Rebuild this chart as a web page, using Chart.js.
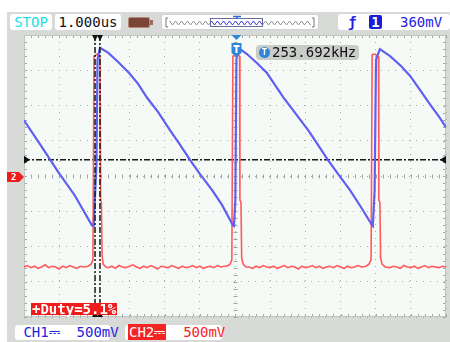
<!DOCTYPE html>
<html lang="en">
<head>
<meta charset="UTF-8">
<title>CH1 / CH2 capture</title>
<script src="https://cdn.jsdelivr.net/npm/chart.js"></script>
<style>
  body { margin: 0; background: #fff; }
  .scope { position: relative; width: 450px; height: 342px; overflow: hidden;
           font-family: "DejaVu Sans Mono", monospace; font-size: 14px; }
  .frame { position: absolute; left: 7px; top: 12px; right: 0; bottom: 0; background: #d7dad7; }
  canvas { position: absolute; left: 0; top: 0; }
  .box { position: absolute; background: #fff; border-radius: 3px; height: 16px; line-height: 16px;
         white-space: nowrap; }
  .stop { left: 10px; top: 14px; width: 42px; text-align: center; color: #22dde6; }
  .tbase { left: 55px; top: 14px; width: 66px; text-align: center; color: #111; }
  .batt { position: absolute; left: 128px; top: 17px; width: 20px; height: 9px; background: #7a4536;
          border: 1px solid #b58a7c; border-radius: 2px; }
  .batt:after { content: ""; position: absolute; left: 21px; top: 2px; width: 3px; height: 5px; background: #9a6a5c; }
  .mem { left: 161px; top: 14px; width: 156px; border: 1px solid #cfd2cf; height: 14px; }
  .trig { left: 338px; top: 14px; width: 112px; color: #2323e6; }
  .trig .edge { position: absolute; left: 10px; font-weight: bold; }
  .trig .src { position: absolute; left: 31px; top: 1px; width: 13px; height: 14px; line-height: 14px; background: #1c1cd6;
               color: #fff; text-align: center; border-radius: 2px; font-weight: bold; }
  .trig .lvl { position: absolute; left: 62px; }
  .ch { top: 325px; height: 15px; line-height: 15px; }
  .ch1 { left: 15px; width: 95px; color: #2424e0; }
  .ch2 { left: 125px; width: 97px; color: #f42424; }
  .ch2 .tag { background: #f42424; color: #fff; padding: 0 1px; margin-left: 3px; }
  .freq { position: absolute; left: 256px; top: 45px; width: 103px; height: 15px; line-height: 15px;
          background: #c9ccc9; border-radius: 4px; color: #111; }
  .freq .ic { position: absolute; left: 3px; top: 2px; width: 11px; height: 11px; border-radius: 6px; background: #2f86d8;
              color: #fff; font-size: 9px; line-height: 11px; text-align: center; font-weight: bold; }
  .freq .val { position: absolute; left: 16px; }
  .duty { position: absolute; left: 31px; top: 303px; height: 12px; line-height: 12px; background: #f01c1c;
          color: #fff; font-weight: bold; padding: 0 1px; }
  .gnd2 { position: absolute; left: 7px; top: 172px; width: 17px; height: 10px; line-height: 10px; background: #ee1c1c;
          color: #fff; font-size: 9px; font-weight: bold; text-indent: 4px;
          clip-path: polygon(0 0, 12px 0, 17px 5px, 12px 10px, 0 10px); }
</style>
</head>
<body>
<div class="scope">
  <div class="frame"></div>
  <div class="box stop">STOP</div>
  <div class="box tbase">1.000us</div>
  <div class="batt"></div>
  <div class="box mem">
    <svg width="156" height="14">
      <defs>
        <pattern id="zz" width="6" height="14" patternUnits="userSpaceOnUse">
          <path d="M0 8 L1.5 6 L3 8 L4.5 10 L6 8" stroke="#8d8d9c" fill="none" stroke-width="1"/>
        </pattern>
        <pattern id="zzb" width="6" height="14" patternUnits="userSpaceOnUse">
          <path d="M0 8 L1.5 6 L3 8 L4.5 10 L6 8" stroke="#3030e0" fill="none" stroke-width="1"/>
        </pattern>
      </defs>
      <path d="M6 3 H4 V12 H6 M150 3 H152 V12 H150" stroke="#777" fill="none"/>
      <rect x="7" y="3" width="142" height="9" fill="url(#zz)"/>
      <rect x="48.5" y="3.5" width="52" height="8" fill="#fff" stroke="#6a6a9a"/>
      <rect x="49" y="3" width="51" height="9" fill="url(#zzb)"/>
      <path d="M71 1.5 H79 M75 1.5 V4" stroke="#2a6ad8" stroke-width="1.5" fill="none"/>
    </svg>
  </div>
  <div class="box trig"><span class="edge">ƒ</span><span class="src">1</span><span class="lvl">360mV</span></div>
  <div class="box ch ch1">&nbsp;CH1⎓&nbsp;&nbsp;500mV</div>
  <div class="box ch ch2"><span class="tag">CH2⎓</span>&nbsp;&nbsp;500mV</div>
  <canvas id="scope" width="450" height="342"></canvas>
  <div class="freq"><span class="ic">T</span><span class="val">253.692kHz</span></div>
  <div class="duty">+Duty=5.1%</div>
  <div class="gnd2">2</div>
</div>

<script>
// time in us (1 us/div, trigger at 0), level in V (500 mV/div, screen centre = 0)
const blueTime = [-6.00, -5.49, -5.03, -4.55, -4.07, -4.02, -3.94, -3.91,
  -3.84, -3.61, -3.33, -3.01, -2.76, -2.50, -2.19, -1.85, -1.56, -1.28, -1.00, -0.65, -0.37, -0.06,
  -0.03, 0.01, 0.04,
  0.09, 0.34, 0.63, 0.91, 1.14, 1.37, 1.73, 2.08, 2.36, 2.64, 2.96, 3.27, 3.58, 3.90,
  3.92, 3.97, 4.01,
  4.12, 4.41, 4.72, 4.98, 5.26, 5.54, 5.83, 6.00];
const blueVolt = [0.79, 0.41, 0.06, -0.28, -0.70, -0.71, 0.16, 1.65,
  1.82, 1.75, 1.62, 1.46, 1.31, 1.11, 0.91, 0.65, 0.44, 0.23, 0.03, -0.20, -0.41, -0.70,
  -0.71, -0.34, 1.65,
  1.82, 1.73, 1.60, 1.46, 1.29, 1.12, 0.88, 0.65, 0.44, 0.23, 0.01, -0.20, -0.44, -0.70,
  -0.71, -0.20, 1.65,
  1.80, 1.70, 1.56, 1.42, 1.22, 1.02, 0.82, 0.69];

const redTime = [
  -6.0, -5.9, -5.8, -5.7, -5.6, -5.5, -5.4, -5.3, -5.2, -5.1, -5.0, -4.9, -4.8, -4.7, -4.6, -4.5, -4.4, -4.3,
  -4.18, -4.09, -4.04, -4.01, -3.92, -3.84, -3.82, -3.80, -3.78, -3.75, -3.67,
  -3.6, -3.5, -3.4, -3.3, -3.2, -3.1, -3.0, -2.9, -2.8, -2.7, -2.6, -2.5, -2.4, -2.3, -2.2, -2.1, -2.0,
  -1.9, -1.8, -1.7, -1.6, -1.5, -1.4, -1.3, -1.2, -1.1, -1.0, -0.9, -0.8, -0.7, -0.6, -0.5, -0.4, -0.3,
  -0.23, -0.14, -0.09, -0.06, 0.03, 0.13, 0.14, 0.17, 0.19, 0.23, 0.31,
  0.4, 0.5, 0.6, 0.7, 0.8, 0.9, 1.0, 1.1, 1.2, 1.3, 1.4, 1.5, 1.6, 1.7, 1.8, 1.9, 2.0,
  2.1, 2.2, 2.3, 2.4, 2.5, 2.6, 2.7, 2.8, 2.9, 3.0, 3.1, 3.2, 3.3, 3.4, 3.5, 3.6,
  3.72, 3.81, 3.87, 3.90, 3.98, 4.08, 4.09, 4.12, 4.14, 4.18, 4.27,
  4.4, 4.5, 4.6, 4.7, 4.8, 4.9, 5.0, 5.1, 5.2, 5.3, 5.4, 5.5, 5.6, 5.7, 5.8, 5.9, 6.0];
const redVolt = [
  -1.29, -1.27, -1.30, -1.28, -1.31, -1.29, -1.26, -1.30, -1.28, -1.29, -1.32, -1.28, -1.30, -1.27, -1.29, -1.31, -1.28, -1.29,
  -1.28, -1.25, -1.19, 1.70, 1.73, 1.70, -0.34, -0.37, -1.12, -1.25, -1.29,
  -1.30, -1.28, -1.31, -1.27, -1.29, -1.30, -1.28, -1.26, -1.29, -1.31, -1.28, -1.30, -1.27, -1.29, -1.32, -1.28, -1.29,
  -1.30, -1.27, -1.29, -1.31, -1.28, -1.30, -1.29, -1.27, -1.30, -1.28, -1.31, -1.29, -1.28, -1.30, -1.27, -1.29, -1.28,
  -1.28, -1.25, -1.19, 1.70, 1.73, 1.70, -0.34, -0.37, -1.16, -1.25, -1.29,
  -1.29, -1.31, -1.28, -1.30, -1.27, -1.29, -1.30, -1.28, -1.31, -1.29, -1.27, -1.30, -1.28, -1.29, -1.32, -1.28, -1.30,
  -1.29, -1.27, -1.30, -1.28, -1.31, -1.29, -1.28, -1.30, -1.27, -1.29, -1.31, -1.28, -1.30, -1.29, -1.27, -1.29,
  -1.28, -1.25, -1.19, 1.72, 1.73, 1.69, -0.34, -0.37, -1.16, -1.25, -1.29,
  -1.30, -1.28, -1.29, -1.31, -1.27, -1.29, -1.30, -1.28, -1.31, -1.29, -1.27, -1.30, -1.28, -1.29, -1.30, -1.28, -1.29];

const cursorTimes = [-3.98, -3.84];   // +duty measurement cursors
const trigLevel = 0.23;               // trigger level line on screen

const pts = (xs, ys) => xs.map((x, i) => ({ x: x, y: ys[i] }));

const scopeDecor = {
  id: 'scopeDecor',
  beforeDraw(chart) {
    const { ctx, chartArea: a } = chart;
    ctx.save();
    ctx.fillStyle = '#f5faf7';
    ctx.fillRect(a.left, a.top, a.width, a.height);
    ctx.restore();
  },
  beforeDatasetsDraw(chart) {
    const { ctx, chartArea: a, scales: { x, y } } = chart;
    const xc = Math.round(x.getPixelForValue(0)) + 0.5;
    const yc = Math.round(y.getPixelForValue(0)) + 0.5;
    ctx.save();
    ctx.strokeStyle = '#a2a6a2';
    ctx.lineWidth = 1;
    ctx.beginPath();
    for (let i = 0; i <= 60; i++) {
      const px = Math.round(x.getPixelForValue(-6 + i * 0.2)) + 0.5;
      ctx.moveTo(px, a.top); ctx.lineTo(px, a.top + 3);
      ctx.moveTo(px, a.bottom - 3); ctx.lineTo(px, a.bottom);
      ctx.moveTo(px, yc - 2); ctx.lineTo(px, yc + 2);
    }
    for (let j = 0; j <= 40; j++) {
      const py = Math.round(y.getPixelForValue(-2 + j * 0.1)) + 0.5;
      ctx.moveTo(a.left, py); ctx.lineTo(a.left + 3, py);
      ctx.moveTo(a.right - 3, py); ctx.lineTo(a.right, py);
      ctx.moveTo(xc - 2, py); ctx.lineTo(xc + 2, py);
    }
    ctx.stroke();
    ctx.strokeStyle = '#c2c6c2';
    ctx.strokeRect(a.left + 0.5, a.top + 0.5, a.width - 1, a.height - 1);
    ctx.restore();
  },
  afterDatasetsDraw(chart) {
    const { ctx, chartArea: a, scales: { x, y } } = chart;
    ctx.save();
    // cursor end markers
    ctx.fillStyle = '#111';
    cursorTimes.forEach(t => {
      const px = x.getPixelForValue(t);
      ctx.beginPath();
      ctx.moveTo(px - 3, a.top); ctx.lineTo(px + 3, a.top); ctx.lineTo(px, a.top + 6); ctx.closePath();
      ctx.moveTo(px - 3, a.bottom); ctx.lineTo(px + 3, a.bottom); ctx.lineTo(px, a.bottom - 6); ctx.closePath();
      ctx.fill();
    });
    // trigger level arrows
    const yt = y.getPixelForValue(trigLevel);
    ctx.beginPath();
    ctx.moveTo(a.left, yt - 4); ctx.lineTo(a.left + 6, yt); ctx.lineTo(a.left, yt + 4); ctx.closePath();
    ctx.moveTo(a.right, yt - 4); ctx.lineTo(a.right - 6, yt); ctx.lineTo(a.right, yt + 4); ctx.closePath();
    ctx.fill();
    // trigger position marker
    const xt = x.getPixelForValue(0) + 1.5;
    ctx.fillStyle = '#2f86d8';
    ctx.beginPath();
    ctx.moveTo(xt - 5, a.top); ctx.lineTo(xt + 5, a.top); ctx.lineTo(xt, a.top + 5); ctx.closePath();
    ctx.moveTo(xt - 5, a.top + 8); ctx.lineTo(xt + 5, a.top + 8); ctx.lineTo(xt + 5, a.top + 18);
    ctx.lineTo(xt, a.top + 22); ctx.lineTo(xt - 5, a.top + 18); ctx.closePath();
    ctx.fill();
    ctx.fillStyle = '#fff';
    ctx.fillRect(xt - 3, a.top + 10, 6, 2);
    ctx.fillRect(xt - 1, a.top + 10, 2, 8);
    ctx.restore();
  }
};

const dashDot = [6, 2, 2, 2];
const datasets = cursorTimes.map(t => ({
  data: [{ x: t, y: -2 }, { x: t, y: 2 }],
  borderColor: '#1a1a1a', borderWidth: 1.5, borderDash: dashDot
}));
datasets.push({ data: pts(blueTime, blueVolt), borderColor: '#5f5ff0', borderWidth: 2.2 });
datasets.push({ data: pts(redTime, redVolt), borderColor: '#ff5a5a', borderWidth: 1.6 });
datasets.push({
  data: [{ x: -6, y: trigLevel }, { x: 6, y: trigLevel }],
  borderColor: '#1a1a1a', borderWidth: 1.5, borderDash: dashDot
});
datasets.forEach(d => { d.showLine = true; d.pointRadius = 0; d.tension = 0; d.fill = false; });

new Chart(document.getElementById('scope'), {
  type: 'scatter',
  data: { datasets: datasets },
  options: {
    responsive: false,
    animation: false,
    events: [],
    layout: { padding: { left: 24, top: 35, right: 4, bottom: 25 } },
    plugins: { legend: { display: false }, tooltip: { enabled: false } },
    scales: {
      x: {
        type: 'linear', min: -6, max: 6,
        ticks: { display: false, stepSize: 1 },
        grid: { color: '#a9ada9', drawTicks: false },
        border: { display: false, dash: [1, 6] }
      },
      y: {
        type: 'linear', min: -2, max: 2,
        ticks: { display: false, stepSize: 0.5 },
        grid: { color: '#a9ada9', drawTicks: false },
        border: { display: false, dash: [1, 6] }
      }
    }
  },
  plugins: [scopeDecor]
});
</script>
</body>
</html>
